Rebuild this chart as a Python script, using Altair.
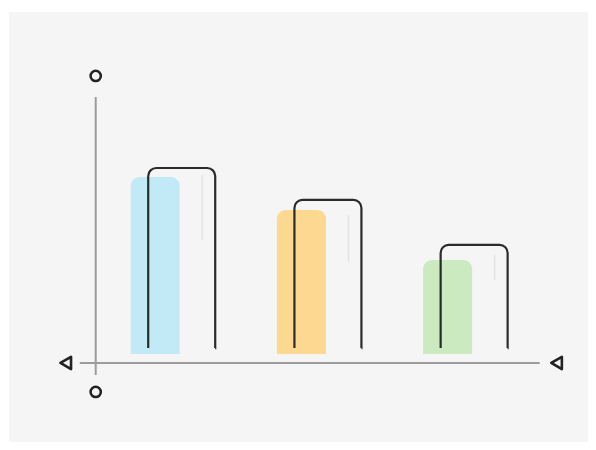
import math
import altair as alt
import pandas as pd

# ---- data ----
categories = ["A", "B", "C"]
positions = [0, 1, 2]
bar_values = [69.9, 57.5, 38.7]
bracket_values = [73.3, 61.3, 44.4]
glint_top = [70.7, 55.6, 40.6]
glint_bottom = [46.2, 38.0, 31.2]
bar_colors = ["#bfe9f5", "#fdd68b", "#c9e9bd"]
BAR_BASE = 3.4
BRACKET_BASE = 5.6

# decorative axis pieces (data units)
y_axis_pos = [-0.407]
y_axis_span = [-4.5, 100.0]
x_axis_span = [-0.516, 2.63]
circle_pos = [107.9, -10.9]
triangle_pos = [-0.612, 2.745]

X_DOMAIN = [-1.0, 2.96]
Y_DOMAIN = [-29.7, 131.95]
W, H = 579, 430

xs = alt.Scale(domain=X_DOMAIN, nice=False, zero=False, padding=0)
ys = alt.Scale(domain=Y_DOMAIN, nice=False, zero=False, padding=0)

bars_df = pd.DataFrame({
    "cat": categories, "pos": positions, "top": bar_values,
    "base": [BAR_BASE] * 3,
    "gtop": glint_top, "gbot": glint_bottom,
})

bars = alt.Chart(bars_df).mark_bar(
    width=49, cornerRadiusTopLeft=9, cornerRadiusTopRight=9, opacity=0.95
).encode(
    x=alt.X("pos:Q", scale=xs, axis=None),
    y=alt.Y("top:Q", scale=ys, axis=None),
    y2="base:Q",
    color=alt.Color("cat:N", scale=alt.Scale(domain=categories, range=bar_colors), legend=None),
)

glints = alt.Chart(bars_df).mark_rule(
    color="#e3e3e3", strokeWidth=1.5, xOffset=47
).encode(
    x=alt.X("pos:Q", scale=xs, axis=None),
    y=alt.Y("gtop:Q", scale=ys, axis=None),
    y2="gbot:Q",
)

px_per_unit = H / (Y_DOMAIN[1] - Y_DOMAIN[0])
BW, R = 67, 8
arc = math.pi * R / 2
bracket_layers = []
for i in range(3):
    h = (bracket_values[i] - BRACKET_BASE) * px_per_unit
    a = (BW - 2 * R) + arc + (h - R)
    df = pd.DataFrame({"pos": [positions[i]], "top": [bracket_values[i]], "base": [BRACKET_BASE]})
    bracket_layers.append(
        alt.Chart(df).mark_bar(
            filled=False, color="#2b2b2b", strokeWidth=2.2, width=BW, xOffset=26.5,
            cornerRadiusTopLeft=R, cornerRadiusTopRight=R,
            strokeDash=[a, BW, 2000, 0],
        ).encode(
            x=alt.X("pos:Q", scale=xs, axis=None),
            y=alt.Y("top:Q", scale=ys, axis=None),
            y2="base:Q",
        )
    )

axis_color = "#9c9c9c"
yaxis = alt.Chart(pd.DataFrame({"x": y_axis_pos, "y1": [y_axis_span[0]], "y2": [y_axis_span[1]]})).mark_rule(
    color=axis_color, strokeWidth=2
).encode(x=alt.X("x:Q", scale=xs, axis=None), y=alt.Y("y1:Q", scale=ys, axis=None), y2="y2:Q")

xaxis = alt.Chart(pd.DataFrame({"x1": [x_axis_span[0]], "x2": [x_axis_span[1]], "y": [0.0]})).mark_rule(
    color=axis_color, strokeWidth=2
).encode(x=alt.X("x1:Q", scale=xs, axis=None), x2="x2:Q", y=alt.Y("y:Q", scale=ys, axis=None))

circles = alt.Chart(pd.DataFrame({"x": y_axis_pos * 2, "y": circle_pos})).mark_point(
    shape="circle", filled=False, color="#222222", strokeWidth=2.5, size=105, opacity=1
).encode(x=alt.X("x:Q", scale=xs, axis=None), y=alt.Y("y:Q", scale=ys, axis=None))

triangles = alt.Chart(pd.DataFrame({"x": triangle_pos, "y": [0.0, 0.0]})).mark_point(
    shape="triangle-left", filled=False, color="#222222", strokeWidth=2.6, size=150, opacity=1,
    strokeJoin="round"
).encode(x=alt.X("x:Q", scale=xs, axis=None), y=alt.Y("y:Q", scale=ys, axis=None))

chart = alt.layer(
    xaxis, yaxis, bars, glints, *bracket_layers, circles, triangles
).properties(
    width=W, height=H,
    autosize=alt.AutoSizeParams(type="none"),
    padding={"left": 1, "top": 4, "right": 0, "bottom": 0},
    background="white",
).configure_view(fill="#f5f5f5", strokeWidth=0)

chart.save("out.html", embed_options={"renderer": "svg", "actions": False})
